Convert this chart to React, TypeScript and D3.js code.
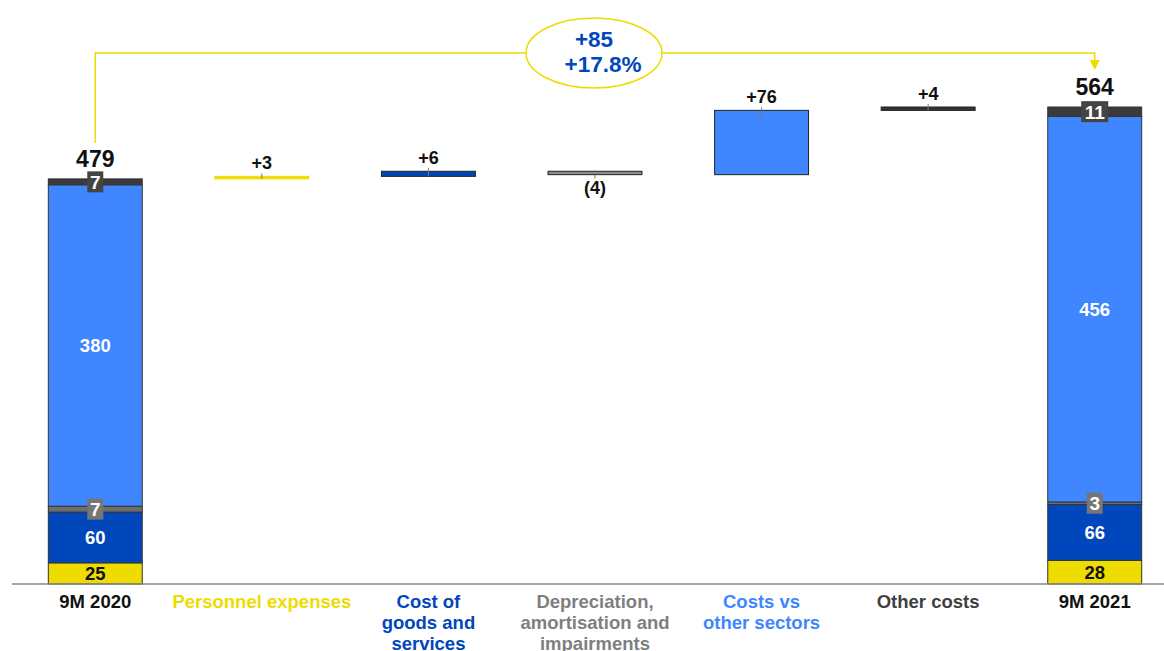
import React from "react";
import * as d3 from "d3";

const categories = [
  "9M 2020",
  "Personnel expenses",
  "Cost of goods and services",
  "Depreciation, amortisation and impairments",
  "Costs vs other sectors",
  "Other costs",
  "9M 2021",
];
const categoryLines = [
  ["9M 2020"],
  ["Personnel expenses"],
  ["Cost of", "goods and", "services"],
  ["Depreciation,", "amortisation and", "impairments"],
  ["Costs vs", "other sectors"],
  ["Other costs"],
  ["9M 2021"],
];
const categoryColors = ["#111", "#EEDC00", "#0047BB", "#7F7F7F", "#3F86FF", "#404040", "#111"];

// stack order bottom -> top
const segmentNames = ["Personnel", "Goods", "Depreciation", "Other sectors", "Other"];
const segmentColors = ["#EEDC00", "#0047BB", "#6E6E6E", "#3F86FF", "#3A3A3A"];
const segmentBoxColors = ["#EEDC00", "#0047BB", "#767676", "#3F86FF", "#444444"];
const segmentTextColors = ["#111", "#fff", "#fff", "#fff", "#fff"];
const values2020 = [25, 60, 7, 380, 7];
const values2021 = [28, 66, 3, 456, 11];

const deltas = [3, 6, -4, 76, 4];
const deltaColors = ["#EEDC00", "#0047BB", "#8C8C8C", "#3F86FF", "#333333"];
const deltaLabels = ["+3", "+6", "(4)", "+76", "+4"];

const changeAbs = "+85";
const changePct = "+17.8%";

const W = 1164;
const H = 651;
const FONT = "'Liberation Sans', Arial, sans-serif";

export default function App() {
  const x = d3.scaleBand<string>().domain(categories).range([12, 1178]).paddingInner(0.436).paddingOuter(0.218);
  const y = d3.scaleLinear().domain([0, 564]).range([584, 107]);
  const bw = x.bandwidth();
  const cx = (c: string) => (x(c) as number) + bw / 2;

  const total2020 = d3.sum(values2020);
  const total2021 = d3.sum(values2021);

  const renderStack = (cat: string, vals: number[], total: number) => {
    let acc = 0;
    const segs = vals.map((v, i) => {
      const s = { v, i, y0: acc, y1: acc + v };
      acc += v;
      return s;
    });
    return (
      <g key={cat}>
        {segs.map((s) => (
          <rect
            key={s.i}
            x={x(cat)}
            y={y(s.y1)}
            width={bw}
            height={y(s.y0) - y(s.y1)}
            fill={segmentColors[s.i]}
            stroke="#333"
            strokeWidth={1}
          />
        ))}
        {segs.map((s) => {
          const my = (y(s.y0) + y(s.y1)) / 2;
          if (s.v < 15) {
            const label = String(s.v);
            const bwid = label.length * 11 + 5;
            return (
              <g key={"l" + s.i}>
                <rect x={cx(cat) - bwid / 2} y={my - 10.5} width={bwid} height={21} fill={segmentBoxColors[s.i]} />
                <text x={cx(cat)} y={my + 7} textAnchor="middle" fill="#fff" fontSize={19} fontWeight="bold">
                  {label}
                </text>
              </g>
            );
          }
          return (
            <text key={"l" + s.i} x={cx(cat)} y={my + 6.5} textAnchor="middle" fill={segmentTextColors[s.i]} fontSize={18.5} fontWeight="bold">
              {s.v}
            </text>
          );
        })}
        <text x={cx(cat)} y={y(total) - 12} textAnchor="middle" fill="#111" fontSize={23} fontWeight="bold">
          {total}
        </text>
      </g>
    );
  };

  let running = total2020;
  const deltaBars = deltas.map((d, i) => {
    const cat = categories[i + 1];
    const from = running;
    const to = running + d;
    running = to;
    const top = y(Math.max(from, to));
    const bottom = y(Math.min(from, to));
    const h = Math.max(bottom - top, 2);
    const tickY1 = d >= 0 ? top - 3 : bottom;
    const tickY2 = d >= 0 ? Math.min(top + 12, bottom) : bottom + 4;
    return (
      <g key={cat}>
        <rect x={x(cat)} y={top} width={bw} height={h} fill={deltaColors[i]} stroke={i === 0 ? "#EEDC00" : "#222"} strokeWidth={1} />
        <line x1={cx(cat)} x2={cx(cat)} y1={tickY1} y2={tickY2} stroke="#777" strokeWidth={1} />
        <text
          x={cx(cat)}
          y={d >= 0 ? top - 7 : bottom + 19}
          textAnchor="middle"
          fill="#111"
          fontSize={18}
          fontWeight="bold"
        >
          {deltaLabels[i]}
        </text>
      </g>
    );
  });

  const c0 = cx(categories[0]);
  const c6 = cx(categories[6]);
  const bracketY = 53;
  const ex = 594;

  return (
    <svg width={W} height={H} style={{ position: "absolute", left: 0, top: 0, fontFamily: FONT }}>
      <rect width={W} height={H} fill="#fff" />
      {/* change bracket */}
      <path
        d={`M${c0},${y(total2020) - 36} V${bracketY} H${c6} V${y(total2021) - 45}`}
        fill="none"
        stroke="#EEDC00"
        strokeWidth={1.5}
      />
      <path d={`M${c6 - 5},${y(total2021) - 47} L${c6 + 5},${y(total2021) - 47} L${c6},${y(total2021) - 37} Z`} fill="#EEDC00" />
      <ellipse cx={ex} cy={bracketY} rx={68} ry={35} fill="#fff" stroke="#EEDC00" strokeWidth={1.5} />
      <text x={ex} y={47} textAnchor="middle" fill="#0047BB" fontSize={22.5} fontWeight="bold">
        {changeAbs}
      </text>
      <text x={ex + 9} y={72} textAnchor="middle" fill="#0047BB" fontSize={22.5} fontWeight="bold">
        {changePct}
      </text>

      {renderStack(categories[0], values2020, total2020)}
      {deltaBars}
      {renderStack(categories[6], values2021, total2021)}

      <line x1={12} x2={W} y1={y(0)} y2={y(0)} stroke="#888" strokeWidth={1.5} />

      {categories.map((c, i) => (
        <text key={c} x={cx(c)} textAnchor="middle" fill={categoryColors[i]} fontSize={18.5} fontWeight="bold">
          {categoryLines[i].map((ln, j) => (
            <tspan key={j} x={cx(c)} y={608 + j * 21}>
              {ln}
            </tspan>
          ))}
        </text>
      ))}
    </svg>
  );
}
